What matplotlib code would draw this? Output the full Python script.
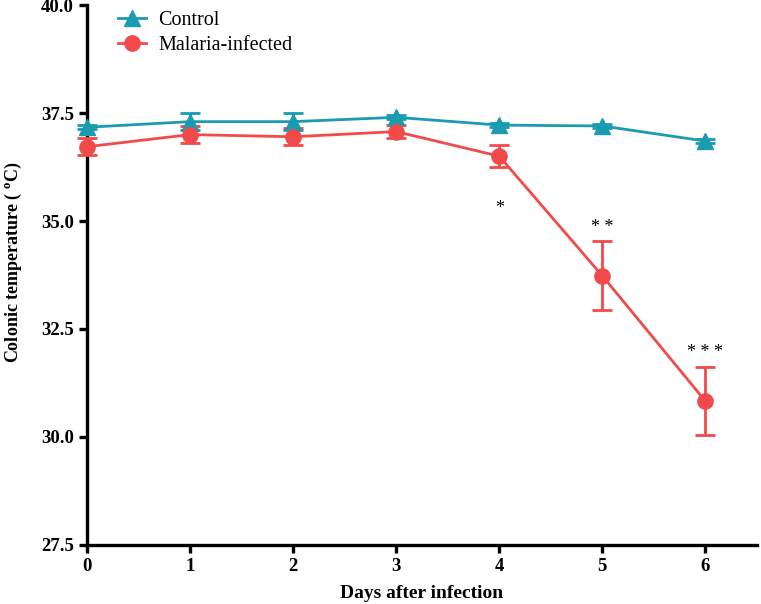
import matplotlib
matplotlib.use('Agg')
import matplotlib.pyplot as plt

plt.rcParams['font.family'] = ['Liberation Serif', 'DejaVu Serif']
plt.rcParams['mathtext.fontset'] = 'custom'
plt.rcParams['mathtext.rm'] = 'Liberation Serif:bold'

days = [0, 1, 2, 3, 4, 5, 6]
control = [37.17, 37.3, 37.3, 37.4, 37.22, 37.2, 36.85]
control_err = [0.05, 0.2, 0.2, 0.05, 0.05, 0.05, 0.05]
malaria = [36.72, 37.0, 36.95, 37.07, 36.5, 33.73, 30.83]
malaria_err = [0.2, 0.2, 0.2, 0.15, 0.25, 0.8, 0.78]
stars = {4: '*', 5: '* *', 6: '* * *'}
star_y = {4: 35.3, 5: 34.85, 6: 31.95}

teal = '#1a9bb0'
red = '#f24a4a'

fig = plt.figure(figsize=(7.61, 6.04), dpi=100)
ax = fig.add_axes([0.1143, 0.0977, 0.8804, 0.894])

c1 = ax.errorbar(days, control, yerr=control_err, color=teal, marker='^', markersize=11,
                 lw=2, capsize=7, capthick=2, elinewidth=2, clip_on=False, zorder=3)
c2 = ax.errorbar(days, malaria, yerr=malaria_err, color=red, marker='o', markersize=11,
                 lw=2, capsize=7, capthick=2, elinewidth=2, clip_on=False, zorder=3)

for d, s in stars.items():
    ax.text(d, star_y[d], s, ha='center', va='center', fontsize=13)

ax.set_xlim(0, 6.5)
ax.set_ylim(27.5, 40.0)
ax.set_xticks(days)
ax.set_yticks([27.5, 30.0, 32.5, 35.0, 37.5, 40.0])
ax.set_yticklabels(['27.5', '30.0', '32.5', '35.0', '37.5', '40.0'])

for side in ['top', 'right']:
    ax.spines[side].set_visible(False)
for side in ['left', 'bottom']:
    ax.spines[side].set_linewidth(2.4)
ax.tick_params(width=2.4, length=6, labelsize=13.5)
for lab in ax.get_xticklabels() + ax.get_yticklabels():
    lab.set_fontweight('bold')

ax.set_xlabel('Days after infection', fontsize=14, fontweight='bold', labelpad=7)
fig.text(13 / 761, 0.566, 'Colonic temperature ( $^{\\mathrm{o}}$C)', rotation=90,
         ha='center', va='center', fontsize=13, fontweight='bold')

ax.legend([c1[0], c2[0]], ['Control', 'Malaria-infected'], loc='upper left',
          bbox_to_anchor=(0.028, 1.012), frameon=False, fontsize=14.5,
          handlelength=1.4, handletextpad=0.6, labelspacing=0.3, borderaxespad=0.2)

fig.savefig('out.png', dpi=100)
